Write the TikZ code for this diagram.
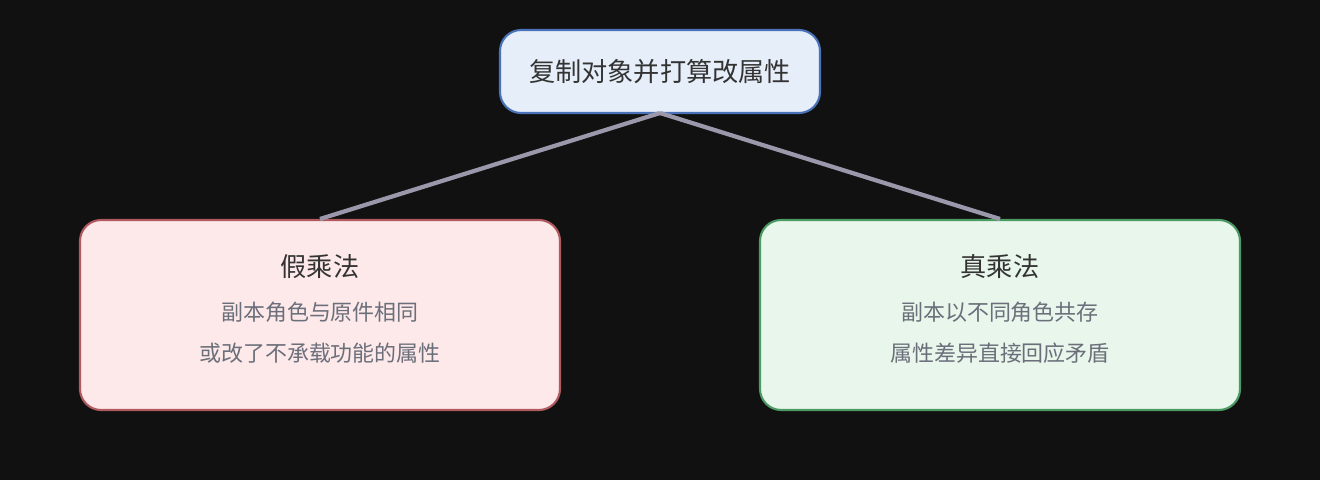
\documentclass[tikz,border=0pt]{standalone}
\usepackage{fontspec}
\newfontfamily\cjk{Noto Sans CJK SC}
\definecolor{bg}{HTML}{111111}
\definecolor{tf}{HTML}{E6EEF9}\definecolor{tb}{HTML}{4A72B8}
\definecolor{lf}{HTML}{FDE9EA}\definecolor{lb}{HTML}{B05A5F}
\definecolor{rf}{HTML}{E8F6EC}\definecolor{rb}{HTML}{4C9A63}
\definecolor{ln}{HTML}{9A98AA}
\definecolor{tt}{HTML}{333333}\definecolor{st}{HTML}{6B6F7A}
\begin{document}
\begin{tikzpicture}[x=0.02cm,y=-0.02cm,
 box/.style={draw,line width=1.2pt,rounded corners=12pt},
 ttl/.style={font=\cjk\fontsize{14.9}{17}\selectfont,text=tt},
 sub/.style={font=\cjk\fontsize{12.5}{15}\selectfont,text=st},
 conn/.style={draw=ln,line width=2.4pt}]
\fill[bg] (0,0) rectangle (1320,480);
\useasboundingbox (0,0) rectangle (1320,480);
\draw[box,draw=tb,fill=tf] (500,30) rectangle (820,113);
\node[ttl] (top) at (660,72) {复制对象并打算改属性};
\draw[box,draw=lb,fill=lf] (80,220) rectangle (560,410);
\draw[box,draw=rb,fill=rf] (760,220) rectangle (1240,410);
\coordinate (tb) at (660,113);
\coordinate (la) at (320,219);
\coordinate (ra) at (1000,219);
\draw[conn] (tb) -- (la);
\draw[conn] (tb) -- (ra);
\node[ttl] (l1) at (320,267) {假乘法};
\node[sub] (l2) at (320,312) {副本角色与原件相同};
\node[sub] (l3) at (320,353) {或改了不承载功能的属性};
\node[ttl] (r1) at (1000,267) {真乘法};
\node[sub] (r2) at (1000,312) {副本以不同角色共存};
\node[sub] (r3) at (1000,353) {属性差异直接回应矛盾};
\end{tikzpicture}
\end{document}
